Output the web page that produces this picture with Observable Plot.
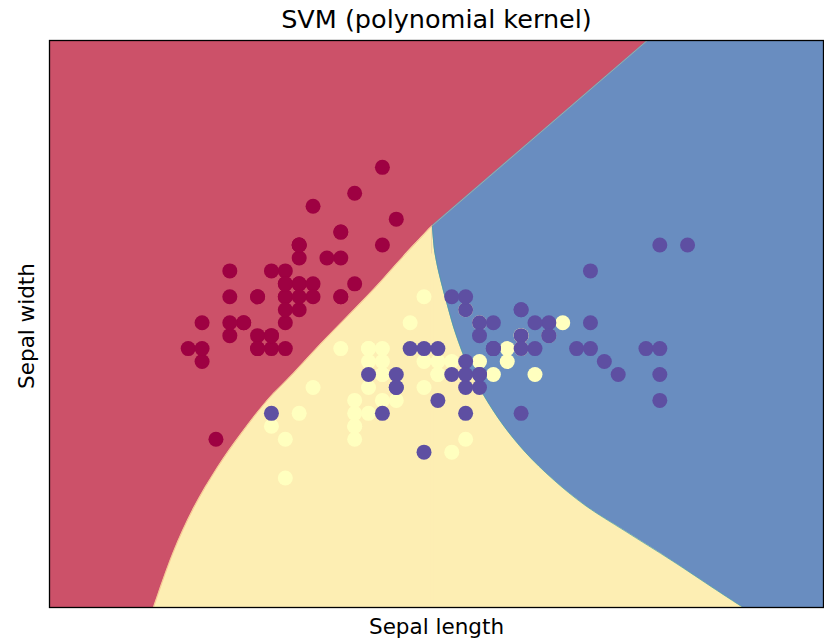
<!DOCTYPE html>
<html>
<head>
<meta charset="utf-8">
<script src="https://cdn.jsdelivr.net/npm/d3@7"></script>
<script src="https://cdn.jsdelivr.net/npm/@observablehq/plot@0.6"></script>
<style>
  html, body { margin: 0; padding: 0; background: #fff; }
  #chart { width: 824px; height: 643px; }
</style>
</head>
<body>
<div id="chart"></div>
<script>
// Iris data (first two features) and class
const sepalLength = [
  5.1,4.9,4.7,4.6,5.0,5.4,4.6,5.0,4.4,4.9,5.4,4.8,4.8,4.3,5.8,5.7,5.4,5.1,5.7,5.1,
  5.4,5.1,4.6,5.1,4.8,5.0,5.0,5.2,5.2,4.7,4.8,5.4,5.2,5.5,4.9,5.0,5.5,4.9,4.4,5.1,
  5.0,4.5,4.4,5.0,5.1,4.8,5.1,4.6,5.3,5.0,
  7.0,6.4,6.9,5.5,6.5,5.7,6.3,4.9,6.6,5.2,5.0,5.9,6.0,6.1,5.6,6.7,5.6,5.8,6.2,5.6,
  5.9,6.1,6.3,6.1,6.4,6.6,6.8,6.7,6.0,5.7,5.5,5.5,5.8,6.0,5.4,6.0,6.7,6.3,5.6,5.5,
  5.5,6.1,5.8,5.0,5.6,5.7,5.7,6.2,5.1,5.7,
  6.3,5.8,7.1,6.3,6.5,7.6,4.9,7.3,6.7,7.2,6.5,6.4,6.8,5.7,5.8,6.4,6.5,7.7,7.7,6.0,
  6.9,5.6,7.7,6.3,6.7,7.2,6.2,6.1,6.4,7.2,7.4,7.9,6.4,6.3,6.1,7.7,6.3,6.4,6.0,6.9,
  6.7,6.9,5.8,6.8,6.7,6.7,6.3,6.5,6.2,5.9
];
const sepalWidth = [
  3.5,3.0,3.2,3.1,3.6,3.9,3.4,3.4,2.9,3.1,3.7,3.4,3.0,3.0,4.0,4.4,3.9,3.5,3.8,3.8,
  3.4,3.7,3.6,3.3,3.4,3.0,3.4,3.5,3.4,3.2,3.1,3.4,4.1,4.2,3.1,3.2,3.5,3.6,3.0,3.4,
  3.5,2.3,3.2,3.5,3.8,3.0,3.8,3.2,3.7,3.3,
  3.2,3.2,3.1,2.3,2.8,2.8,3.3,2.4,2.9,2.7,2.0,3.0,2.2,2.9,2.9,3.1,3.0,2.7,2.2,2.5,
  3.2,2.8,2.5,2.8,2.9,3.0,2.8,3.0,2.9,2.6,2.4,2.4,2.7,2.7,3.0,3.4,3.1,2.3,3.0,2.5,
  2.6,3.0,2.6,2.3,2.7,3.0,2.9,2.9,2.5,2.8,
  3.3,2.7,3.0,2.9,3.0,3.0,2.5,2.9,2.5,3.6,3.2,2.7,3.0,2.5,2.8,3.2,3.0,3.8,2.6,2.2,
  3.2,2.8,2.8,2.7,3.3,3.2,2.8,3.0,2.8,3.0,2.8,3.8,2.8,2.8,2.6,3.0,3.4,3.1,3.0,3.1,
  3.1,3.1,2.7,3.2,3.3,3.0,2.5,3.0,3.4,3.0
];
const species = [
  0,0,0,0,0,0,0,0,0,0,0,0,0,0,0,0,0,0,0,0,0,0,0,0,0,0,0,0,0,0,0,0,0,0,0,0,0,0,0,0,0,0,0,0,0,0,0,0,0,0,
  1,1,1,1,1,1,1,1,1,1,1,1,1,1,1,1,1,1,1,1,1,1,1,1,1,1,1,1,1,1,1,1,1,1,1,1,1,1,1,1,1,1,1,1,1,1,1,1,1,1,
  2,2,2,2,2,2,2,2,2,2,2,2,2,2,2,2,2,2,2,2,2,2,2,2,2,2,2,2,2,2,2,2,2,2,2,2,2,2,2,2,2,2,2,2,2,2,2,2,2,2
];

// Mesh extent (x: sepal length, y: sepal width)
const xDomain = [3.3, 8.88];
const yDomain = [1.0, 5.38];

// Decision boundaries
// red / yellow boundary (bottom edge up to the triple point)
const redYellowX = [4.05,4.19,4.34,4.51,4.68,4.87,5.06,5.25,5.45,5.64,5.85,6.06];
const redYellowY = [1.00,1.42,1.77,2.08,2.34,2.60,2.81,3.03,3.25,3.46,3.71,3.95];
// yellow / blue boundary (triple point down to the bottom edge)
const yellowBlueX = [6.06,6.08,6.12,6.17,6.23,6.32,6.43,6.57,6.73,6.93,7.16,7.45,7.79,8.10,8.30];
const yellowBlueY = [3.95,3.73,3.53,3.33,3.11,2.86,2.64,2.41,2.20,1.99,1.79,1.59,1.36,1.14,1.00];
// red / blue boundary (triple point up to the top edge, then along the top)
const redBlueX = [6.06,6.84,7.61,8.88];
const redBlueY = [3.95,4.67,5.38,5.38];

const classNames = [0, 1, 2];
const pointColors = ["#9e0142", "#ffffbf", "#5e4fa2"];

const toRows = (xs, ys) => xs.map((x, i) => ({x, y: ys[i]}));
const points = sepalLength.map((x, i) => ({x, y: sepalWidth[i], c: species[i]}));
const redYellow = toRows(redYellowX, redYellowY);
const yellowBlue = toRows(yellowBlueX, yellowBlueY);
const redBlue = toRows(redBlueX, redBlueY);
const apex = redYellow[redYellow.length - 1];

const smooth = "catmull-rom";
const yellowFill = "#fdeeb3";
const bottom = () => yDomain[0];

const chart = Plot.plot({
  width: 824,
  height: 643,
  marginLeft: 49,
  marginRight: 1,
  marginTop: 40,
  marginBottom: 36,
  style: {fontFamily: "DejaVu Sans", background: "#fff"},
  x: {domain: xDomain, axis: null},
  y: {domain: yDomain, axis: null},
  color: {domain: classNames, range: pointColors},
  marks: [
    Plot.frame({fill: "#cc5169", stroke: null}),
    Plot.areaY(redBlue, {x: "x", y1: bottom, y2: "y", fill: "#698dc0", clip: true}),
    Plot.areaY(yellowBlue, {x: "x", y1: bottom, y2: "y", curve: smooth, fill: yellowFill, clip: true}),
    Plot.areaY(redYellow, {x: "x", y1: bottom, y2: "y", curve: smooth, fill: yellowFill, clip: true}),
    // cover the join between the two yellow pieces
    Plot.ruleX([apex], {x: "x", y1: bottom, y2: () => yellowBlue[1].y, stroke: yellowFill, strokeWidth: 3, clip: true}),
    Plot.line(yellowBlue, {x: "x", y: "y", curve: smooth, stroke: "#4a9fa3", strokeWidth: 1, strokeOpacity: 0.7, clip: true}),
    Plot.line(redBlue.slice(0, 3), {x: "x", y: "y", stroke: "#b9c98f", strokeWidth: 1, strokeOpacity: 0.6, clip: true}),
    Plot.line(redYellow, {x: "x", y: "y", curve: smooth, stroke: "#f08a60", strokeWidth: 0.8, strokeOpacity: 0.5, clip: true}),
    Plot.dot(points, {x: "x", y: "y", fill: "c", r: 7.5, stroke: null}),
    Plot.frame({stroke: "#000", strokeWidth: 1.3}),
    Plot.text(["SVM (polynomial kernel)"], {frameAnchor: "top", lineAnchor: "middle", dy: -21, fontSize: 25.5, fill: "#000"}),
    Plot.text(["Sepal length"], {frameAnchor: "bottom", lineAnchor: "middle", dy: 19.5, fontSize: 21.5, fill: "#000"}),
    Plot.text(["Sepal width"], {frameAnchor: "left", lineAnchor: "middle", textAnchor: "middle", dx: -22, dy: 2, rotate: -90, fontSize: 21.5, fill: "#000"})
  ]
});
document.getElementById("chart").appendChild(chart);
</script>
</body>
</html>
